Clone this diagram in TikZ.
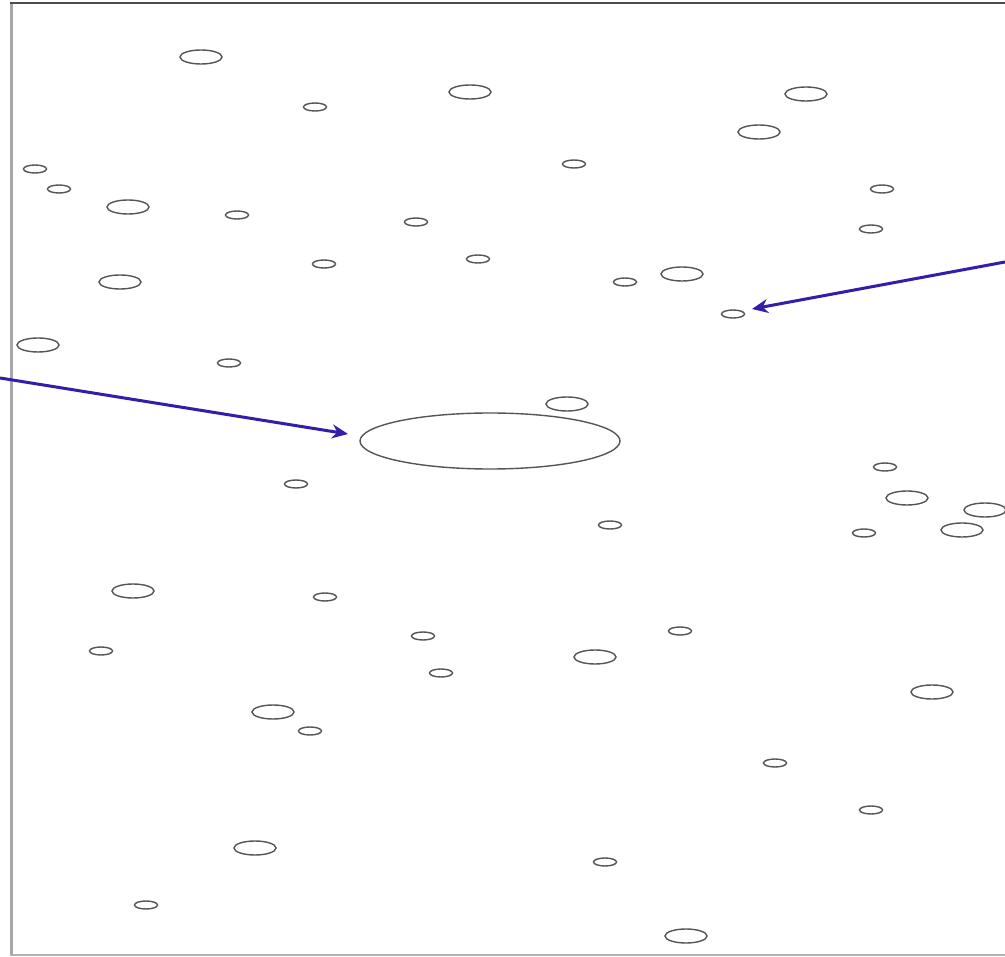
\documentclass[tikz,border=0pt]{standalone}
\usetikzlibrary{arrows.meta}
\definecolor{arrowblue}{RGB}{50,30,170}
\definecolor{edgegray}{RGB}{85,85,85}
\tikzset{
  bub/.style={draw=edgegray, line width=1.4pt},
  pointer/.style={draw=arrowblue, line width=3pt, -{Stealth[length=16pt,width=14pt]}},
}
\newcommand{\bigbub}[2]{\draw[bub] (#1,#2) ellipse [x radius=21, y radius=7];}
\newcommand{\smallbub}[2]{\draw[bub] (#1,#2) ellipse [x radius=11.5, y radius=4];}
\begin{document}
\begin{tikzpicture}[x=1pt,y=-1pt]
\useasboundingbox (0,0) rectangle (1005,957);
\fill[white] (0,0) rectangle (1005,957);
% frame
\draw[gray!70, line width=3pt] (11,3) -- (11,956);
\draw[gray!60!black, line width=2pt] (10,3) -- (1005,3);
\draw[gray!60, line width=2pt] (10,955) -- (1005,955);
% bubbles
\bigbub{201}{57} \smallbub{315}{107} \bigbub{470}{92} \bigbub{806}{94} \bigbub{759}{132}
\smallbub{574}{164} \smallbub{35}{169} \smallbub{59}{189} \bigbub{128}{207} \smallbub{237}{215}
\smallbub{416}{222} \smallbub{882}{189} \smallbub{871}{229} \smallbub{324}{264} \smallbub{478}{259}
\bigbub{120}{282} \smallbub{625}{282} \bigbub{682}{274} \smallbub{733}{314} \bigbub{38}{345}
\smallbub{229}{363} \bigbub{567}{404}
\draw[bub] (490,441) ellipse [x radius=130, y radius=28];
\smallbub{885}{467} \smallbub{296}{484} \bigbub{907}{498} \bigbub{985}{510} \bigbub{962}{530}
\smallbub{864}{533} \smallbub{610}{525} \bigbub{133}{591} \smallbub{325}{597} \smallbub{101}{651}
\smallbub{423}{636} \smallbub{680}{631} \bigbub{595}{657} \smallbub{441}{673} \bigbub{932}{692}
\bigbub{273}{712} \smallbub{310}{731} \smallbub{775}{763} \smallbub{871}{810} \bigbub{255}{848}
\smallbub{605}{862} \smallbub{146}{905} \bigbub{686}{936}
% arrows
\coordinate (s1) at (0,378);
\coordinate (e1) at (348,434);
\coordinate (s2) at (1005,262);
\coordinate (e2) at (752,309);
\draw[pointer] (s1) -- (e1);
\draw[pointer] (s2) -- (e2);
\end{tikzpicture}
\end{document}
